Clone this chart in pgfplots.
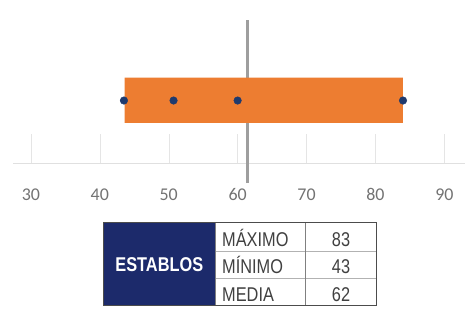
\documentclass[border=0pt]{standalone}
\usepackage{fontspec}
\setmainfont{Carlito}
\newfontfamily\condfont[FakeStretch=0.82]{Liberation Sans}
\usepackage{pgfplots}
\pgfplotsset{compat=1.18}
\definecolor{barorange}{HTML}{ED7D31}
\definecolor{dotnavy}{HTML}{1F3A6E}
\definecolor{tabnavy}{HTML}{1C2A6B}
\begin{document}
\begin{tikzpicture}[x=1bp,y=1bp]
\useasboundingbox[fill=white] (0,0) rectangle (468,-319);
\begin{axis}[
  at={(13bp,-163bp)}, anchor=south west,
  scale only axis, width=452bp, height=143bp,
  xmin=27.4, xmax=93, ymin=0, ymax=1,
  clip=false,
  axis x line=bottom, axis y line=none,
  x axis line style={draw=black!12, -},
  xtick={30,40,...,90}, major tick length=0pt,
  xticklabel style={font=\fontsize{18}{18}\selectfont, text=black!55, anchor=base, yshift=-37bp},
  /pgf/number format/assume math mode=true,
]
\addplot[ycomb, draw=black!10, no markers] coordinates {(30,0.203) (40,0.203) (50,0.203) (60,0.203) (70,0.203) (80,0.203) (90,0.203)};
\addplot[color=black!38, line width=3bp, no markers] coordinates {(61.4,-0.14) (61.4,1)};
\addplot[fill=barorange, draw=none, no markers] coordinates {(43.6,0.280) (84,0.280) (84,0.597) (43.6,0.597) (43.6,0.280)};
\addplot[only marks, mark=*, mark size=3.8bp, color=dotnavy] coordinates {(43.5,0.437) (50.7,0.437) (60,0.437) (84,0.437)};
\end{axis}
% table
\fill[tabnavy] (103.5,-222) rectangle (215,-305.5);
\draw[black!30, line width=0.8bp] (215,-251.5) -- (376.5,-251.5);
\draw[black!30, line width=0.8bp] (215,-278.5) -- (376.5,-278.5);
\draw[black!50, line width=1bp] (305.5,-222) -- (305.5,-305.5);
\draw[black!50, line width=1bp] (215,-222) -- (215,-305.5);
\draw[black!70, line width=1bp] (103.5,-222) rectangle (376.5,-305.5);
\begin{scope}[every node/.style={inner sep=0pt, font=\condfont\fontsize{20}{20}\selectfont, text=black!75}]
\node[anchor=base, text=white, font=\condfont\bfseries\fontsize{20}{20}\selectfont] at (159.3,-271.5) {ESTABLOS};
\node[anchor=base west] at (222,-246.5) {MÁXIMO};
\node[anchor=base west] at (222,-273.5) {MÍNIMO};
\node[anchor=base west] at (222,-301) {MEDIA};
\node[anchor=base] at (341,-246) {83};
\node[anchor=base] at (341,-273.5) {43};
\node[anchor=base] at (341,-301) {62};
\end{scope}
\end{tikzpicture}
\end{document}
